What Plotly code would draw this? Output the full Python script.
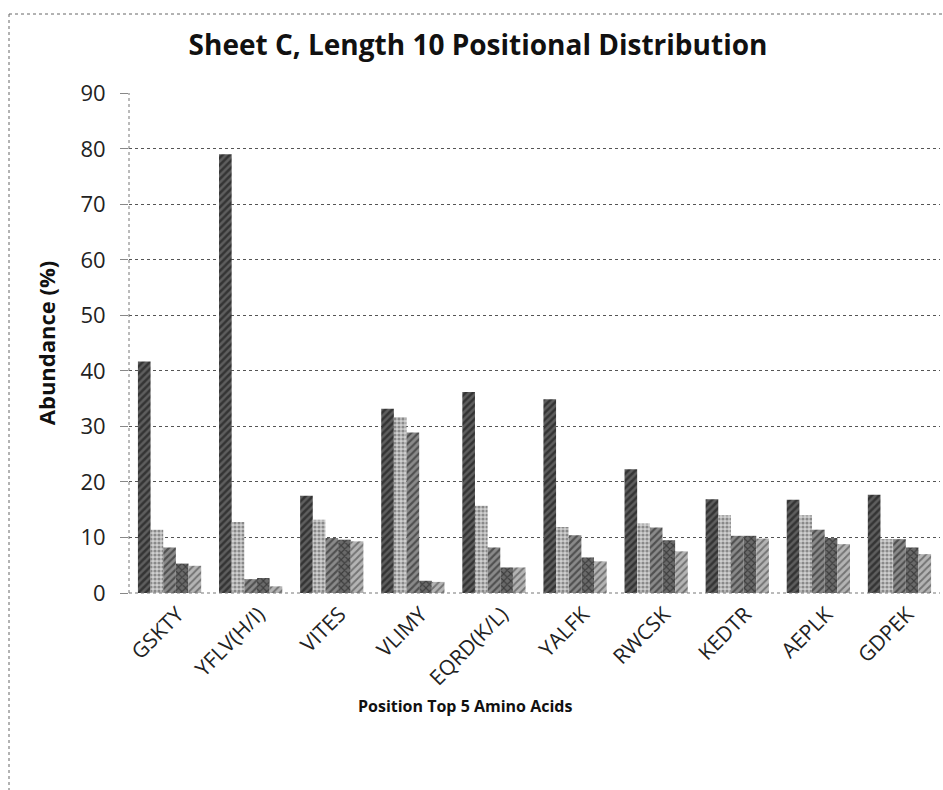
import plotly.graph_objects as go

categories = ["GSKTY", "YFLV(H/I)", "VITES", "VLIMY", "EQRD(K/L)", "YALFK", "RWCSK", "KEDTR", "AEPLK", "GDPEK"]
rank1 = [41.7, 79.0, 17.5, 33.2, 36.2, 34.9, 22.3, 16.9, 16.8, 17.7]
rank2 = [11.4, 12.8, 13.2, 31.7, 15.7, 11.9, 12.5, 14.0, 14.0, 9.7]
rank3 = [8.2, 2.5, 9.9, 28.9, 8.2, 10.4, 11.8, 10.3, 11.4, 9.7]
rank4 = [5.3, 2.7, 9.6, 2.2, 4.6, 6.4, 9.5, 10.3, 9.9, 8.2]
rank5 = [4.9, 1.2, 9.3, 2.0, 4.6, 5.7, 7.5, 9.8, 8.8, 7.0]
y_ticks = [0, 10, 20, 30, 40, 50, 60, 70, 80, 90]

series = [rank1, rank2, rank3, rank4, rank5]
styles = [
    dict(shape="/", fg="#0a0a0a", bg="#5e5e5e", size=5, solidity=0.5),
    dict(shape=".", fg="#444444", bg="#cfcfcf", size=4, solidity=0.5),
    dict(shape="/", fg="#161616", bg="#8a8a8a", size=5, solidity=0.45),
    dict(shape="x", fg="#101010", bg="#6a6a6a", size=5, solidity=0.4),
    dict(shape="/", fg="#333333", bg="#b4b4b4", size=5, solidity=0.4),
]

fig = go.Figure()
for vals, st in zip(series, styles):
    fig.add_trace(go.Bar(
        x=categories, y=vals,
        marker=dict(color=st["bg"], line=dict(width=0),
                    pattern=dict(shape=st["shape"], fgcolor=st["fg"], bgcolor=st["bg"],
                                 size=st["size"], solidity=st["solidity"], fillmode="overlay")),
        showlegend=False,
    ))

FONT = "Open Sans"
L, T, W, H = 129, 93, 811, 500
fig.update_layout(
    width=943, height=790,
    margin=dict(l=L, r=943 - L - W, t=T, b=790 - T - H),
    paper_bgcolor="white", plot_bgcolor="white",
    barmode="group", bargap=0.22, bargroupgap=0,
    font=dict(family=FONT, color="#111111"),
    title=dict(text="<b>Sheet C, Length 10 Positional Distribution</b>",
               x=478 / 943, xref="container", xanchor="center", y=1 - 45 / 790, yanchor="middle",
               font=dict(family=FONT, size=28, color="#111111")),
)

fig.update_yaxes(range=[0, 90.05], tickvals=y_ticks, ticktext=[str(v) for v in y_ticks],
                 showgrid=True, gridcolor="#555555", griddash="dot", gridwidth=1,
                 zeroline=False, showline=False,
                 ticks="outside", ticklen=8, tickcolor="#888888",
                 ticklabelstandoff=10,
                 tickfont=dict(family=FONT, size=22, color="#222222"),
                 title=dict(text="<b>Abundance (%)</b>", font=dict(family=FONT, size=22, color="#111111"),
                            standoff=18))
fig.update_xaxes(showgrid=False, showline=False,
                 tickangle=-45, ticks="", ticklabelshift=8, ticklabelstandoff=4,
                 tickfont=dict(family=FONT, size=21, color="#222222"))
# dotted axis lines
fig.add_shape(type="line", xref="paper", yref="paper", x0=0, x1=1, y0=0, y1=0,
              line=dict(color="#777777", width=1, dash="dot"))
fig.add_shape(type="line", xref="paper", yref="paper", x0=0, x1=0, y0=0, y1=1,
              line=dict(color="#777777", width=1, dash="dot"))

fig.add_annotation(text="<b>Position Top 5 Amino Acids</b>", xref="paper", yref="paper",
                   x=(465 - L) / W, y=(T + H - 706) / H, showarrow=False,
                   xanchor="center", yanchor="middle",
                   font=dict(family=FONT, size=16, color="#111111"))

# outer dotted chart border (top and left visible)
fig.add_shape(type="line", xref="paper", yref="paper",
              x0=(9 - L) / W, x1=(943 - L) / W, y0=(T + H - 14) / H, y1=(T + H - 14) / H,
              line=dict(color="#666666", width=1, dash="dot"))
fig.add_shape(type="line", xref="paper", yref="paper",
              x0=(9 - L) / W, x1=(9 - L) / W, y0=(T + H - 14) / H, y1=(T + H - 790) / H,
              line=dict(color="#666666", width=1, dash="dot"))

fig.write_html("out.html", config={"displayModeBar": False},
               post_script="document.body.style.margin='0';document.body.style.padding='0';")
